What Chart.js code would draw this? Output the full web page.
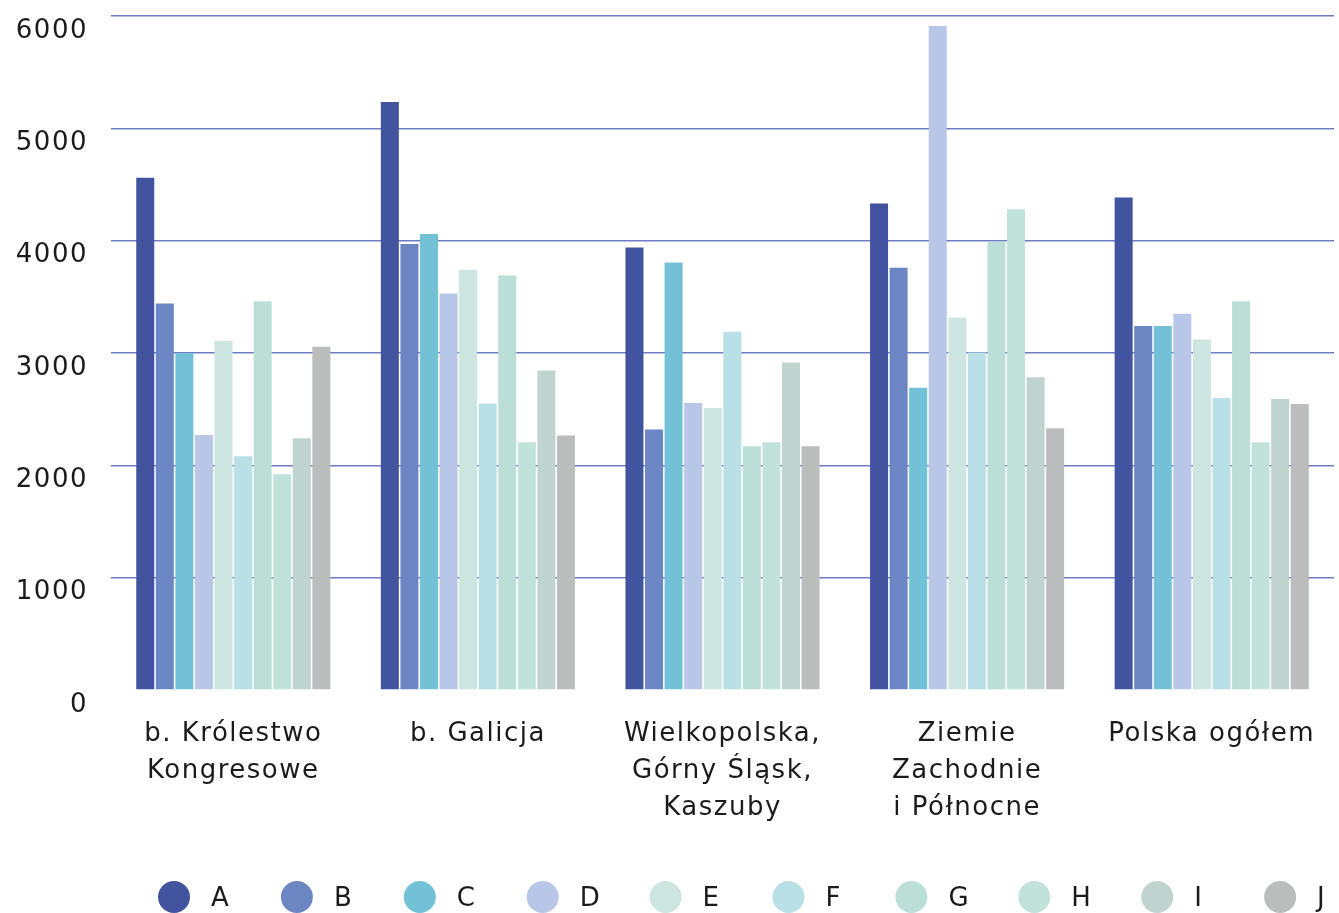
<!DOCTYPE html>
<html lang="pl">
<head>
<meta charset="utf-8">
<script src="https://cdn.jsdelivr.net/npm/chart.js@4.4.1/dist/chart.umd.min.js"></script>
<style>
  html, body { margin: 0; padding: 0; background: #ffffff; }
  #wrap { width: 1339px; height: 913px; position: relative; }
</style>
</head>
<body>
<div id="wrap"><canvas id="chart" width="1339" height="913"></canvas></div>
<script>
// Regions (multi-line labels)
const regions = [
  ['b. Królestwo', 'Kongresowe'],
  ['b. Galicja'],
  ['Wielkopolska,', 'Górny Śląsk,', 'Kaszuby'],
  ['Ziemie', 'Zachodnie', 'i Północne'],
  ['Polska ogółem']
];

const seriesNames = ['A', 'B', 'C', 'D', 'E', 'F', 'G', 'H', 'I', 'J'];

// Values per series, one per region
const seriesA = [4560, 5235, 3940, 4330, 4385];
const seriesB = [3440, 3970, 2320, 3760, 3240];
const seriesC = [3000, 4060, 3805, 2690, 3240];
const seriesD = [2270, 3530, 2555, 5910, 3350];
const seriesE = [3110, 3740, 2510, 3315, 3120];
const seriesF = [2080, 2550, 3190, 3005, 2600];
const seriesG = [3460, 3690, 2170, 3990, 3460];
const seriesH = [1920, 2205, 2205, 4280, 2205];
const seriesI = [2240, 2845, 2915, 2785, 2590];
const seriesJ = [3055, 2265, 2170, 2330, 2545];

const yTicks = [0, 1000, 2000, 3000, 4000, 5000, 6000];

const colors = ['#4253a0', '#6b86c3', '#72c1d6', '#b8c7e8', '#cde5e0',
                '#b9e0e6', '#bbdfd7', '#c1e2da', '#bfd3cf', '#bbbcbc'];

const allSeries = [seriesA, seriesB, seriesC, seriesD, seriesE,
                   seriesF, seriesG, seriesH, seriesI, seriesJ];

const FONT = '"DejaVu Sans", "Open Sans", sans-serif';
const TEXT = '#1b1b1b';
const SPACING = '1.5px';

// Slightly wider tracking for all canvas text
const tracking = {
  id: 'tracking',
  beforeUpdate(chart) { chart.ctx.letterSpacing = SPACING; },
  beforeDraw(chart) { chart.ctx.letterSpacing = SPACING; }
};

// Evenly spaced circle legend along the bottom
const circleLegend = {
  id: 'circleLegend',
  afterDraw(chart) {
    const ctx = chart.ctx;
    const startX = 174, step = 122.9, y = 897, r = 16;
    ctx.save();
    ctx.font = '26px ' + FONT;
    ctx.textBaseline = 'middle';
    ctx.textAlign = 'left';
    chart.data.datasets.forEach((ds, i) => {
      const cx = startX + i * step;
      ctx.beginPath();
      ctx.arc(cx, y, r, 0, Math.PI * 2);
      ctx.fillStyle = ds.backgroundColor;
      ctx.fill();
      ctx.fillStyle = TEXT;
      ctx.fillText(ds.label, cx + 37, y + 2);
    });
    ctx.restore();
  }
};

new Chart(document.getElementById('chart'), {
  type: 'bar',
  data: {
    labels: regions,
    datasets: allSeries.map((vals, i) => ({
      label: seriesNames[i],
      data: vals,
      backgroundColor: colors[i],
      borderWidth: 0,
      categoryPercentage: 0.8,
      barPercentage: 0.92
    }))
  },
  options: {
    responsive: false,
    animation: false,
    layout: { padding: { top: 16, right: 5, left: 0, bottom: 60 } },
    plugins: {
      legend: { display: false },
      tooltip: { enabled: false }
    },
    scales: {
      x: {
        afterFit(scale) { scale.paddingLeft = 0; scale.paddingRight = 0; },
        grid: { display: false, drawTicks: false },
        border: { display: false },
        ticks: {
          color: TEXT,
          font: { family: FONT, size: 26, lineHeight: '37px' },
          padding: 26,
          maxRotation: 0,
          autoSkip: false
        }
      },
      y: {
        min: 0,
        max: 6000,
        afterBuildTicks(scale) { scale.ticks = yTicks.map(v => ({ value: v })); },
        afterFit(scale) {
          scale.paddingTop = 0;
          scale.paddingBottom = 0;
          scale.width = 111;
        },
        grid: {
          color: ctx => ctx.tick && ctx.tick.value === 0 ? 'rgba(0,0,0,0)' : '#6e7cc2',
          lineWidth: 1.5,
          drawTicks: false
        },
        border: { display: false },
        ticks: {
          color: TEXT,
          font: { family: FONT, size: 26 },
          padding: 23,
          labelOffset: 15,
          callback: v => String(v)
        }
      }
    }
  },
  plugins: [tracking, circleLegend]
});
</script>
</body>
</html>
